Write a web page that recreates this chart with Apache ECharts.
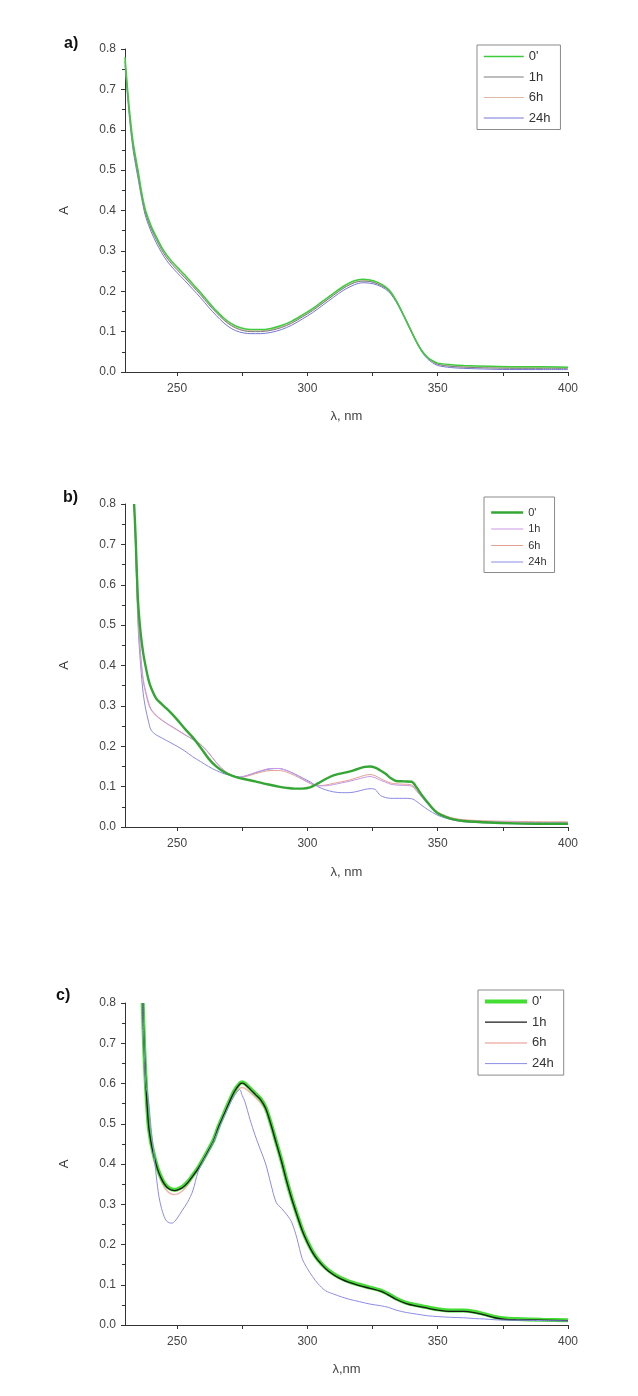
<!DOCTYPE html>
<html>
<head>
    <meta charset="utf-8">
    <title>UV spectra a, b, c</title>
    <script src="https://cdn.jsdelivr.net/npm/echarts@6.0.0/dist/echarts.min.js"></script>
    <style>
        body, html {
            margin: 0;
            padding: 0;
            background: #fff;
            overflow: hidden;
        }
        .panel {
            position: absolute;
            left: 0;
            width: 638px;
        }
        #pa { top: 0; height: 450px; }
        #pb { top: 450px; height: 470px; }
        #pc { top: 920px; height: 476px; }
    </style>
</head>
<body>
    <div id="pa" class="panel"></div>
    <div id="pb" class="panel"></div>
    <div id="pc" class="panel"></div>

    <script>
        // ---- panel a) ----
        var waveA = [230, 231, 232, 233, 234, 235, 236, 237, 238, 240, 242, 244, 246, 248, 250,
            253, 256, 259, 262, 265, 268, 271, 274, 278, 282, 286, 290, 294, 298,
            302, 306, 310, 314, 318, 321, 324, 327, 330, 332, 334, 336, 338, 340,
            342, 344, 346, 348, 350, 355, 360, 370, 380, 390, 400];
        var a0 = [0.78, 0.70, 0.63, 0.575, 0.535, 0.50, 0.46, 0.425, 0.398, 0.362, 0.335, 0.31, 0.29, 0.274, 0.26,
            0.24, 0.218, 0.197, 0.174, 0.152, 0.133, 0.119, 0.110, 0.105, 0.105, 0.108, 0.115, 0.126, 0.141,
            0.157, 0.176, 0.195, 0.213, 0.226, 0.230, 0.228, 0.222, 0.211, 0.198, 0.178, 0.153, 0.126, 0.099,
            0.073, 0.052, 0.037, 0.028, 0.022, 0.018, 0.016, 0.014, 0.013, 0.013, 0.012];
        var a1 = [0.77, 0.69, 0.62, 0.565, 0.525, 0.49, 0.452, 0.418, 0.391, 0.355, 0.328, 0.303, 0.283, 0.267, 0.253,
            0.233, 0.212, 0.191, 0.168, 0.147, 0.128, 0.114, 0.105, 0.100, 0.100, 0.103, 0.110, 0.121, 0.136,
            0.152, 0.171, 0.190, 0.208, 0.221, 0.225, 0.224, 0.218, 0.208, 0.196, 0.177, 0.153, 0.127, 0.100,
            0.074, 0.052, 0.036, 0.026, 0.019, 0.014, 0.012, 0.010, 0.009, 0.009, 0.009];
        var a6 = [0.77, 0.69, 0.62, 0.567, 0.527, 0.492, 0.454, 0.42, 0.393, 0.358, 0.331, 0.306, 0.286, 0.27, 0.256,
            0.236, 0.214, 0.193, 0.17, 0.149, 0.13, 0.116, 0.107, 0.102, 0.102, 0.105, 0.112, 0.123, 0.138,
            0.154, 0.172, 0.191, 0.209, 0.222, 0.226, 0.225, 0.219, 0.209, 0.197, 0.178, 0.154, 0.128, 0.101,
            0.075, 0.053, 0.037, 0.027, 0.02, 0.015, 0.013, 0.012, 0.011, 0.011, 0.011];
        var a24 = [0.76, 0.68, 0.61, 0.555, 0.515, 0.48, 0.443, 0.41, 0.383, 0.348, 0.32, 0.296, 0.276, 0.26, 0.246,
            0.226, 0.205, 0.184, 0.161, 0.14, 0.121, 0.107, 0.099, 0.095, 0.095, 0.098, 0.105, 0.116, 0.131,
            0.147, 0.166, 0.185, 0.203, 0.216, 0.221, 0.22, 0.215, 0.205, 0.193, 0.174, 0.150, 0.124, 0.097,
            0.071, 0.049, 0.033, 0.023, 0.016, 0.011, 0.009, 0.007, 0.006, 0.006, 0.006];

        // ---- panel b) ----
        var waveB = [233.5, 234, 235, 236, 237, 238, 239, 240, 242, 244, 246, 248, 250,
            253, 256, 259, 262, 265, 268, 271, 274, 277, 280, 283, 286, 289, 292, 295, 298,
            301, 304, 307, 310, 313, 316, 319, 322, 324, 326, 328, 330, 332, 334, 337, 340,
            342, 344, 346, 348, 350, 353, 356, 360, 370, 380, 390, 400];
        var b0 = [0.80, 0.73, 0.56, 0.48, 0.43, 0.395, 0.365, 0.345, 0.318, 0.305, 0.293, 0.28, 0.266,
            0.243, 0.222, 0.197, 0.17, 0.15, 0.136, 0.127, 0.121, 0.117, 0.113, 0.108, 0.104, 0.1, 0.097, 0.095, 0.095,
            0.098, 0.108, 0.119, 0.128, 0.133, 0.137, 0.143, 0.149, 0.15, 0.147, 0.14, 0.132, 0.121, 0.114, 0.113, 0.112,
            0.097, 0.078, 0.062, 0.046, 0.034, 0.025, 0.019, 0.015, 0.011, 0.009, 0.008, 0.008];
        var b1 = [0.80, 0.72, 0.53, 0.43, 0.365, 0.335, 0.31, 0.292, 0.277, 0.266, 0.257, 0.249, 0.241,
            0.229, 0.217, 0.204, 0.184, 0.16, 0.14, 0.128, 0.123, 0.128, 0.135, 0.141, 0.145, 0.145, 0.14, 0.131, 0.12,
            0.109, 0.102, 0.102, 0.105, 0.109, 0.113, 0.118, 0.123, 0.125, 0.122, 0.116, 0.111, 0.106, 0.104, 0.103, 0.101,
            0.088, 0.073, 0.058, 0.045, 0.035, 0.026, 0.02, 0.016, 0.013, 0.012, 0.011, 0.011];
        var b6 = [0.80, 0.72, 0.52, 0.42, 0.36, 0.33, 0.305, 0.29, 0.275, 0.265, 0.256, 0.248, 0.24,
            0.228, 0.217, 0.205, 0.185, 0.16, 0.14, 0.128, 0.122, 0.126, 0.132, 0.137, 0.14, 0.14, 0.136, 0.128, 0.118,
            0.108, 0.102, 0.104, 0.108, 0.112, 0.116, 0.122, 0.128, 0.13, 0.127, 0.12, 0.114, 0.109, 0.107, 0.106, 0.104,
            0.09, 0.075, 0.06, 0.047, 0.037, 0.028, 0.022, 0.018, 0.015, 0.014, 0.013, 0.013];
        var b24 = [0.80, 0.70, 0.50, 0.40, 0.33, 0.29, 0.262, 0.24, 0.228, 0.221, 0.214, 0.207, 0.2,
            0.188, 0.174, 0.162, 0.15, 0.14, 0.132, 0.127, 0.124, 0.128, 0.134, 0.14, 0.144, 0.145, 0.14, 0.132, 0.122,
            0.112, 0.1, 0.092, 0.087, 0.085, 0.085, 0.088, 0.093, 0.095, 0.093, 0.078, 0.073, 0.071, 0.071, 0.071, 0.07,
            0.063, 0.053, 0.044, 0.036, 0.029, 0.022, 0.017, 0.013, 0.01, 0.008, 0.007, 0.007];

        // ---- panel c) ----
        var waveC = [236.8, 237.3, 238, 239, 240, 241, 242, 243, 244, 245, 246, 247, 248, 249, 250,
            252, 254, 256, 258, 260, 262, 264, 266, 268, 270, 272, 274, 275, 276, 278,
            280, 282, 284, 286, 288, 290, 292, 294, 296, 298, 300, 302, 304, 307, 310,
            313, 316, 320, 324, 328, 331, 334, 338, 342, 346, 350, 355, 360, 364, 368,
            372, 376, 380, 390, 400];
        var c0 = [0.80, 0.70, 0.60, 0.50, 0.455, 0.425, 0.40, 0.38, 0.365, 0.353, 0.345, 0.34, 0.337, 0.336, 0.337,
            0.343, 0.355, 0.372, 0.39, 0.412, 0.435, 0.46, 0.495, 0.525, 0.555, 0.582, 0.60, 0.603, 0.60, 0.588,
            0.575, 0.562, 0.54, 0.50, 0.455, 0.41, 0.36, 0.315, 0.275, 0.237, 0.207, 0.182, 0.163, 0.142, 0.127,
            0.116, 0.108, 0.10, 0.093, 0.086, 0.077, 0.066, 0.055, 0.049, 0.044, 0.039, 0.036, 0.036, 0.033, 0.027,
            0.02, 0.016, 0.015, 0.013, 0.012];
        var c1 = [0.80, 0.70, 0.60, 0.50, 0.453, 0.423, 0.398, 0.378, 0.363, 0.351, 0.343, 0.338, 0.335, 0.334, 0.335,
            0.341, 0.353, 0.37, 0.388, 0.41, 0.433, 0.458, 0.493, 0.523, 0.553, 0.58, 0.598, 0.601, 0.598, 0.586,
            0.573, 0.56, 0.538, 0.498, 0.453, 0.408, 0.358, 0.313, 0.273, 0.235, 0.205, 0.18, 0.161, 0.14, 0.125,
            0.114, 0.106, 0.098, 0.091, 0.084, 0.075, 0.064, 0.053, 0.047, 0.042, 0.037, 0.034, 0.034, 0.031, 0.025,
            0.018, 0.014, 0.013, 0.012, 0.011];
        var c6 = [0.80, 0.70, 0.60, 0.50, 0.45, 0.418, 0.392, 0.372, 0.356, 0.343, 0.334, 0.328, 0.325, 0.324, 0.325,
            0.333, 0.347, 0.366, 0.386, 0.408, 0.432, 0.457, 0.49, 0.52, 0.548, 0.572, 0.588, 0.59, 0.588, 0.578,
            0.566, 0.552, 0.532, 0.495, 0.45, 0.405, 0.357, 0.312, 0.272, 0.235, 0.205, 0.18, 0.161, 0.14, 0.125,
            0.114, 0.106, 0.098, 0.091, 0.084, 0.075, 0.064, 0.053, 0.047, 0.042, 0.037, 0.034, 0.034, 0.031, 0.025,
            0.018, 0.015, 0.014, 0.012, 0.011];
        var c24 = [0.80, 0.70, 0.60, 0.56, 0.49, 0.43, 0.37, 0.32, 0.29, 0.27, 0.258, 0.254, 0.253, 0.257, 0.265,
            0.285, 0.305, 0.333, 0.38, 0.408, 0.43, 0.456, 0.488, 0.518, 0.546, 0.57, 0.585, 0.57, 0.555, 0.51,
            0.47, 0.435, 0.40, 0.35, 0.305, 0.29, 0.275, 0.255, 0.215, 0.165, 0.14, 0.12, 0.103, 0.085, 0.077,
            0.07, 0.064, 0.058, 0.052, 0.048, 0.044, 0.037, 0.031, 0.027, 0.023, 0.021, 0.019, 0.018, 0.016, 0.015,
            0.013, 0.012, 0.012, 0.011, 0.01];

        var names = ['0\'', '1h', '6h', '24h'];
        var xTicks = [250, 275, 300, 325, 350, 375, 400];
        var xLabels = [250, 300, 350, 400];

        var FONT = '"Liberation Sans", Arial, sans-serif';

        function pairs(xs, ys) {
            return xs.map(function (x, i) { return [x, ys[i]]; });
        }

        function line(name, xs, ys, color, width, z) {
            return {
                name: name,
                type: 'line',
                data: pairs(xs, ys),
                symbol: 'none',
                smooth: 0.3,
                z: z,
                lineStyle: { color: color, width: width },
                itemStyle: { color: color }
            };
        }

        // legend entries in the order 0', 1h, 6h, 24h, each key line as wide as its curve
        function legendData(series) {
            return names.map(function (n) {
                var s = series.filter(function (d) { return d.name === n; })[0];
                return { name: n, lineStyle: { width: s.lineStyle.width, color: s.lineStyle.color } };
            });
        }

        function makeOption(p) {
            return {
                animation: false,
                backgroundColor: '#fff',
                grid: { left: 125, top: p.gridTop, width: 443, height: p.gridHeight },
                graphic: [{
                    type: 'text', left: p.tagLeft, top: p.tagTop,
                    style: { text: p.tag, font: 'bold 16px ' + FONT, fill: '#111' }
                }],
                legend: {
                    orient: 'vertical',
                    left: p.legend.left,
                    top: p.legend.top,
                    padding: p.legend.padding,
                    itemGap: p.legend.gap,
                    itemWidth: p.legend.w,
                    itemHeight: p.legend.h,
                    borderColor: '#8a8a8a',
                    borderWidth: 1,
                    borderRadius: 0,
                    itemStyle: { opacity: 0 },
                    textStyle: { fontSize: p.legend.font, color: '#333', fontFamily: FONT },
                    data: legendData(p.series)
                },
                xAxis: {
                    type: 'value', min: 230, max: 400,
                    name: p.xName, nameLocation: 'middle', nameGap: p.xNameGap,
                    nameTextStyle: { fontSize: 13, color: '#444', fontFamily: FONT },
                    axisLine: { show: true, onZero: false, lineStyle: { color: '#333', width: 1 } },
                    axisTick: { show: true, length: 4, customValues: xTicks, lineStyle: { color: '#333' } },
                    axisLabel: { customValues: xLabels, fontSize: 12, color: '#444', margin: 11, fontFamily: FONT },
                    splitLine: { show: false }
                },
                yAxis: {
                    type: 'value', min: 0, max: 0.8, interval: 0.1,
                    name: 'A', nameLocation: 'middle', nameGap: 54, nameRotate: 90,
                    nameTextStyle: { fontSize: 13, color: '#333', fontFamily: FONT },
                    axisLine: { show: true, lineStyle: { color: '#333', width: 1 } },
                    axisTick: { show: true, length: 4, lineStyle: { color: '#333' } },
                    minorTick: { show: true, splitNumber: 2, length: 3, lineStyle: { color: '#333' } },
                    axisLabel: {
                        fontSize: 12, color: '#444', margin: 9, fontFamily: FONT,
                        formatter: function (v) { return v.toFixed(1); }
                    },
                    splitLine: { show: false }
                },
                series: p.series
            };
        }

        var chartA = echarts.init(document.getElementById('pa'));
        chartA.setOption(makeOption({
            gridTop: 49, gridHeight: 323, tag: 'a)', tagLeft: 64, tagTop: 36,
            xName: 'λ, nm', xNameGap: 38,
            legend: { left: 477, top: 45, padding: [5, 10, 5, 6], gap: 7.5, w: 40, h: 14, font: 13 },
            series: [
                line(names[3], waveA, a24, '#7676d6', 1, 1),
                line(names[2], waveA, a6, '#dcb8a6', 1, 2),
                line(names[1], waveA, a1, '#7c7c7c', 1, 3),
                line(names[0], waveA, a0, '#3ccc3c', 1.5, 4)
            ]
        }));

        var chartB = echarts.init(document.getElementById('pb'));
        chartB.setOption(makeOption({
            gridTop: 54, gridHeight: 323, tag: 'b)', tagLeft: 63, tagTop: 40,
            xName: 'λ, nm', xNameGap: 39,
            legend: { left: 484, top: 47, padding: [10, 8, 5, 6], gap: 5.5, w: 32, h: 11, font: 11 },
            series: [
                line(names[3], waveB, b24, '#8a8ae2', 1, 1),
                line(names[2], waveB, b6, '#e4a090', 1, 2),
                line(names[1], waveB, b1, '#c898e6', 1, 3),
                line(names[0], waveB, b0, '#34a634', 2.4, 4)
            ]
        }));

        var chartC = echarts.init(document.getElementById('pc'));
        chartC.setOption(makeOption({
            gridTop: 83, gridHeight: 322, tag: 'c)', tagLeft: 56, tagTop: 68,
            xName: 'λ,nm', xNameGap: 38,
            legend: { left: 478, top: 70, padding: [5, 10, 5, 5], gap: 7.7, w: 42, h: 14, font: 13 },
            series: [
                line(names[2], waveC, c6, '#f0b6ae', 1.5, 1),
                line(names[0], waveC, c0, '#44dd33', 4, 2),
                line(names[1], waveC, c1, '#1a1a1a', 1.3, 3),
                line(names[3], waveC, c24, '#8c8ce6', 1, 4)
            ]
        }));

        window.addEventListener('resize', function () {
            chartA.resize();
            chartB.resize();
            chartC.resize();
        });
    </script>
</body>
</html>
